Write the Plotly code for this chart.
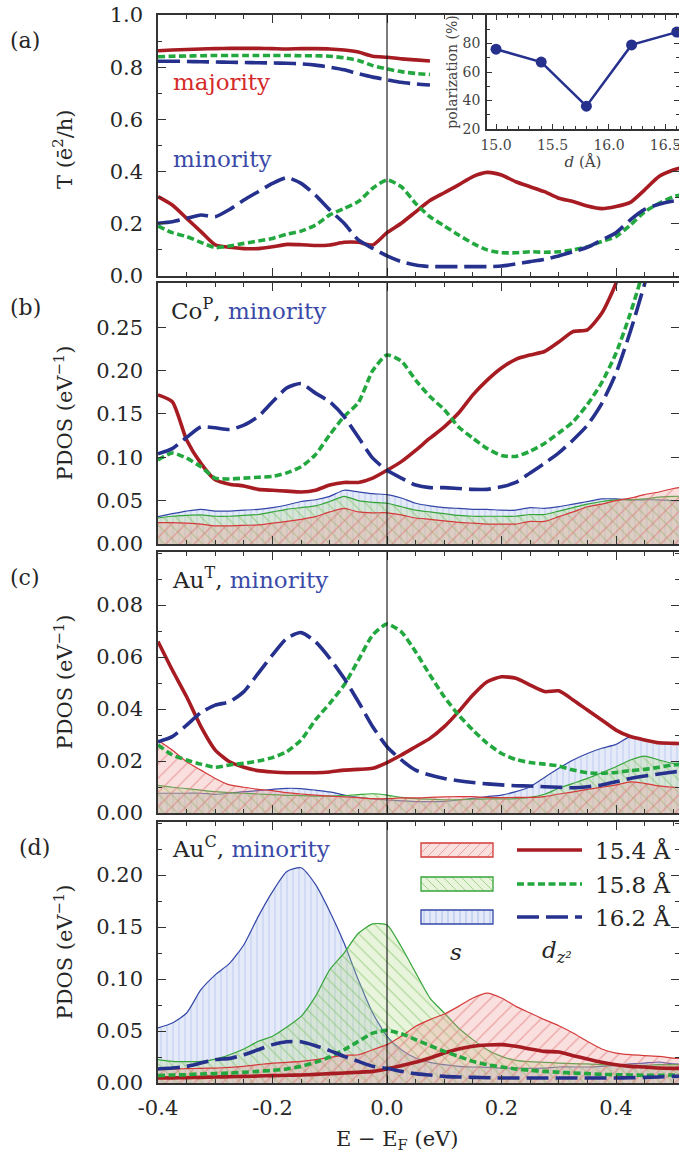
import plotly.graph_objects as go

# ---------------- data ----------------
E = [-0.4, -0.375, -0.35, -0.325, -0.3, -0.275, -0.25, -0.225, -0.2, -0.175,
     -0.15, -0.125, -0.1, -0.075, -0.05, -0.025, 0.0, 0.025, 0.05, 0.075,
     0.1, 0.125, 0.15, 0.175, 0.2, 0.225, 0.25, 0.275, 0.3, 0.325,
     0.35, 0.375, 0.4, 0.425, 0.45, 0.475, 0.5, 0.525]
E_MAJ = E[:20]

# (a) transmission
T_maj_154 = [0.863, 0.866, 0.868, 0.870, 0.871, 0.872, 0.872, 0.872, 0.871, 0.870,
             0.871, 0.871, 0.870, 0.866, 0.858, 0.842, 0.838, 0.832, 0.828, 0.824]
T_maj_158 = [0.840, 0.842, 0.843, 0.844, 0.845, 0.845, 0.845, 0.845, 0.845, 0.845,
             0.844, 0.844, 0.842, 0.836, 0.826, 0.806, 0.793, 0.783, 0.776, 0.772]
T_maj_162 = [0.823, 0.823, 0.822, 0.821, 0.820, 0.819, 0.818, 0.817, 0.816, 0.815,
             0.813, 0.808, 0.800, 0.790, 0.775, 0.762, 0.752, 0.742, 0.736, 0.732]
T_min_154 = [0.304, 0.272, 0.221, 0.170, 0.119, 0.110, 0.105, 0.105, 0.112, 0.121,
             0.120, 0.117, 0.119, 0.129, 0.129, 0.119, 0.166, 0.202, 0.246, 0.289,
             0.319, 0.349, 0.381, 0.397, 0.387, 0.361, 0.342, 0.323, 0.298, 0.285,
             0.268, 0.258, 0.266, 0.282, 0.330, 0.381, 0.406, 0.420]
T_min_158 = [0.192, 0.166, 0.151, 0.129, 0.109, 0.115, 0.125, 0.134, 0.144, 0.160,
             0.172, 0.195, 0.234, 0.259, 0.285, 0.336, 0.368, 0.342, 0.278, 0.227,
             0.192, 0.157, 0.125, 0.100, 0.089, 0.089, 0.093, 0.091, 0.093, 0.100,
             0.112, 0.132, 0.151, 0.195, 0.246, 0.278, 0.304, 0.315]
T_min_162 = [0.202, 0.208, 0.221, 0.234, 0.227, 0.255, 0.291, 0.323, 0.355, 0.377,
             0.355, 0.310, 0.253, 0.202, 0.138, 0.106, 0.077, 0.055, 0.042, 0.036,
             0.036, 0.036, 0.036, 0.036, 0.038, 0.046, 0.055, 0.064, 0.077, 0.093,
             0.110, 0.138, 0.166, 0.215, 0.255, 0.275, 0.287, 0.293]

# inset: spin polarization vs electrode distance
D_ANG = [15.0, 15.4, 15.8, 16.2, 16.6]
POL = [76, 67, 36, 79, 88]

# (b) Co^P minority: dz2 lines and s fills
b_dz2_154 = [0.172, 0.164, 0.120, 0.093, 0.074, 0.069, 0.067, 0.063, 0.062, 0.061,
             0.060, 0.062, 0.068, 0.071, 0.071, 0.076, 0.085, 0.095, 0.108, 0.122,
             0.135, 0.151, 0.172, 0.189, 0.203, 0.213, 0.218, 0.222, 0.233, 0.245,
             0.247, 0.266, 0.301, 0.360, 0.420, 0.480, 0.550, 0.620]
b_dz2_158 = [0.097, 0.105, 0.099, 0.089, 0.076, 0.075, 0.076, 0.077, 0.078, 0.082,
             0.089, 0.103, 0.126, 0.147, 0.163, 0.200, 0.218, 0.211, 0.189, 0.170,
             0.155, 0.135, 0.122, 0.110, 0.102, 0.101, 0.107, 0.116, 0.128, 0.141,
             0.161, 0.186, 0.220, 0.266, 0.320, 0.380, 0.440, 0.500]
b_dz2_162 = [0.104, 0.110, 0.123, 0.135, 0.134, 0.132, 0.137, 0.147, 0.164, 0.180,
             0.185, 0.174, 0.164, 0.147, 0.123, 0.099, 0.085, 0.076, 0.068, 0.065,
             0.065, 0.064, 0.063, 0.063, 0.066, 0.071, 0.082, 0.093, 0.105, 0.120,
             0.137, 0.162, 0.197, 0.245, 0.300, 0.360, 0.420, 0.480]
b_s_154 = [0.0246, 0.0246, 0.024, 0.023, 0.021, 0.021, 0.0215, 0.022, 0.024, 0.026,
           0.0285, 0.0316, 0.037, 0.041, 0.037, 0.036, 0.036, 0.0335, 0.030, 0.0285,
           0.0266, 0.025, 0.024, 0.023, 0.023, 0.023, 0.026, 0.026, 0.0316, 0.037,
           0.043, 0.046, 0.050, 0.053, 0.057, 0.060, 0.064, 0.066]
b_s_158 = [0.030, 0.032, 0.033, 0.0335, 0.032, 0.032, 0.033, 0.034, 0.037, 0.040,
           0.042, 0.044, 0.049, 0.055, 0.050, 0.048, 0.047, 0.043, 0.039, 0.037,
           0.035, 0.033, 0.032, 0.032, 0.032, 0.032, 0.034, 0.034, 0.038, 0.042,
           0.046, 0.049, 0.051, 0.051, 0.052, 0.054, 0.055, 0.055]
b_s_162 = [0.0316, 0.035, 0.038, 0.040, 0.038, 0.038, 0.039, 0.040, 0.042, 0.045,
           0.049, 0.051, 0.055, 0.062, 0.060, 0.058, 0.057, 0.053, 0.047, 0.044,
           0.042, 0.041, 0.040, 0.040, 0.039, 0.039, 0.042, 0.041, 0.043, 0.046,
           0.049, 0.052, 0.052, 0.051, 0.051, 0.051, 0.050, 0.050]

# (c) Au^T minority
c_dz2_154 = [0.066, 0.055, 0.0447, 0.0332, 0.0242, 0.0197, 0.0176, 0.0163, 0.0158, 0.0155,
             0.0155, 0.0155, 0.0158, 0.0165, 0.0168, 0.0172, 0.0194, 0.0223, 0.0255, 0.0287,
             0.0332, 0.039, 0.0454, 0.0505, 0.0524, 0.0518, 0.0492, 0.0467, 0.047, 0.0435,
             0.0396, 0.0358, 0.0319, 0.0294, 0.0281, 0.027, 0.0268, 0.0267]
c_dz2_158 = [0.0262, 0.0223, 0.0204, 0.0188, 0.0176, 0.0185, 0.0191, 0.020, 0.0213, 0.0236,
             0.0281, 0.0358, 0.0422, 0.0492, 0.0588, 0.0685, 0.0727, 0.0697, 0.062, 0.0531,
             0.0447, 0.0377, 0.0319, 0.0268, 0.0229, 0.0206, 0.0194, 0.0188, 0.0181, 0.0165,
             0.0155, 0.0153, 0.0156, 0.0163, 0.0168, 0.0176, 0.0185, 0.019]
c_dz2_162 = [0.0274, 0.0294, 0.0338, 0.0386, 0.0415, 0.0428, 0.0467, 0.0537, 0.0608, 0.0672,
             0.0694, 0.0659, 0.0595, 0.0518, 0.0428, 0.0332, 0.0255, 0.0204, 0.0165, 0.0146,
             0.0133, 0.0124, 0.0117, 0.0112, 0.0108, 0.0105, 0.0104, 0.0101, 0.0099, 0.0097,
             0.0101, 0.0108, 0.012, 0.0133, 0.0142, 0.015, 0.0158, 0.0162]
c_s_154 = [0.028, 0.0242, 0.0197, 0.0165, 0.0133, 0.0108, 0.0099, 0.0091, 0.0086, 0.0078,
           0.0073, 0.0069, 0.0065, 0.0062, 0.0059, 0.0055, 0.0055, 0.0058, 0.0058, 0.006,
           0.0062, 0.0063, 0.0063, 0.006, 0.0059, 0.006, 0.006, 0.0063, 0.0073, 0.0081,
           0.0091, 0.0099, 0.0108, 0.012, 0.0114, 0.0104, 0.0099, 0.0097]
c_s_158 = [0.0106, 0.0099, 0.0094, 0.0088, 0.0082, 0.0078, 0.0076, 0.0073, 0.0071, 0.0068,
           0.0067, 0.0065, 0.0065, 0.0067, 0.0071, 0.0074, 0.0069, 0.006, 0.0055, 0.0053,
           0.0051, 0.0051, 0.0053, 0.0054, 0.0054, 0.0055, 0.006, 0.0072, 0.0095, 0.0114,
           0.0133, 0.0155, 0.0178, 0.0204, 0.0219, 0.0204, 0.0191, 0.0188]
c_s_162 = [0.0076, 0.0076, 0.0076, 0.0076, 0.0072, 0.0076, 0.0082, 0.0086, 0.0091, 0.0095,
           0.0094, 0.0088, 0.0081, 0.0069, 0.006, 0.0054, 0.005, 0.0047, 0.0044, 0.0044,
           0.0045, 0.005, 0.0056, 0.0063, 0.0069, 0.0082, 0.0101, 0.0137, 0.0172, 0.0204,
           0.0229, 0.0249, 0.0264, 0.0294, 0.0283, 0.027, 0.0268, 0.0268]

# (d) Au^C minority
d_dz2_154 = [0.0048, 0.0049, 0.0051, 0.0054, 0.0058, 0.006, 0.0064, 0.0067, 0.0071, 0.0074,
             0.0077, 0.0083, 0.009, 0.0096, 0.0103, 0.0112, 0.0135, 0.0167, 0.0199, 0.024,
             0.0288, 0.0327, 0.0353, 0.0365, 0.0369, 0.0353, 0.0327, 0.0304, 0.0298, 0.0263,
             0.0231, 0.0199, 0.0176, 0.016, 0.0154, 0.0144, 0.0141, 0.014]
d_dz2_158 = [0.0071, 0.0077, 0.008, 0.0087, 0.009, 0.0096, 0.0103, 0.0112, 0.0122, 0.0135,
             0.016, 0.0199, 0.025, 0.032, 0.040, 0.048, 0.0506, 0.0474, 0.0417, 0.0359,
             0.0304, 0.0256, 0.0208, 0.0176, 0.0154, 0.0135, 0.0122, 0.0112, 0.0103, 0.0096,
             0.009, 0.0083, 0.008, 0.0077, 0.0074, 0.0074, 0.0077, 0.0078]
d_dz2_162 = [0.0135, 0.0144, 0.016, 0.0192, 0.0224, 0.0237, 0.0272, 0.032, 0.0369, 0.0397,
             0.0397, 0.0359, 0.0311, 0.0256, 0.0208, 0.016, 0.0141, 0.0112, 0.009, 0.0077,
             0.0064, 0.0058, 0.0054, 0.0051, 0.0048, 0.0048, 0.0048, 0.0048, 0.0048, 0.0048,
             0.0048, 0.0048, 0.0048, 0.0051, 0.0054, 0.0058, 0.0064, 0.0066]
d_s_154 = [0.0144, 0.0135, 0.0138, 0.0141, 0.0144, 0.015, 0.016, 0.0176, 0.0192, 0.0199,
           0.0208, 0.0224, 0.0247, 0.0266, 0.0272, 0.032, 0.0369, 0.0449, 0.0545, 0.0609,
           0.0663, 0.0737, 0.0817, 0.0865, 0.0817, 0.0737, 0.0673, 0.0609, 0.0551, 0.0481,
           0.040, 0.0327, 0.0288, 0.0272, 0.0263, 0.0256, 0.024, 0.023]
d_s_158 = [0.0224, 0.0208, 0.0205, 0.0208, 0.023, 0.0272, 0.0327, 0.040, 0.0449, 0.0538,
           0.0641, 0.0833, 0.109, 0.125, 0.144, 0.153, 0.152, 0.131, 0.106, 0.0817,
           0.0673, 0.0529, 0.0417, 0.032, 0.0256, 0.0218, 0.0205, 0.0199, 0.0192, 0.0186,
           0.0183, 0.0176, 0.017, 0.017, 0.017, 0.0176, 0.0176, 0.0176]
d_s_162 = [0.0529, 0.0577, 0.0673, 0.0897, 0.104, 0.115, 0.133, 0.160, 0.184, 0.2035,
           0.207, 0.191, 0.165, 0.1346, 0.099, 0.0673, 0.0449, 0.032, 0.024, 0.0199,
           0.0176, 0.016, 0.0154, 0.015, 0.0144, 0.0144, 0.0141, 0.0144, 0.0154, 0.0154,
           0.0154, 0.016, 0.017, 0.0183, 0.0192, 0.0202, 0.0183, 0.018]

DIST_LABELS = ["15.4 Å", "15.8 Å", "16.2 Å"]
X_TICKS = [-0.4, -0.2, 0.0, 0.2, 0.4]
X_TICKTEXT = ["-0.4", "-0.2", "0.0", "0.2", "0.4"]
YA_TICKS = [0.0, 0.2, 0.4, 0.6, 0.8, 1.0]
YA_TEXT = ["0.0", "0.2", "0.4", "0.6", "0.8", "1.0"]
YB_TICKS = [0.0, 0.05, 0.10, 0.15, 0.20, 0.25]
YB_TEXT = ["0.00", "0.05", "0.10", "0.15", "0.20", "0.25"]
YC_TICKS = [0.0, 0.02, 0.04, 0.06, 0.08]
YC_TEXT = ["0.00", "0.02", "0.04", "0.06", "0.08"]
YD_TICKS = [0.0, 0.05, 0.10, 0.15, 0.20]
YD_TEXT = ["0.00", "0.05", "0.10", "0.15", "0.20"]
INS_XT = [15.0, 15.5, 16.0, 16.5]
INS_XTEXT = ["15.0", "15.5", "16.0", "16.5"]
INS_YT = [20, 40, 60, 80]

# ---------------- style ----------------
W, H = 679, 1165
SERIF = "DejaVu Serif"
TXT = "#262626"
AX = "#333333"
LINE_COL = ["#a61c22", "#23a83f", "#26318e"]
DASH = ["solid", "7px,3.5px", "22px,7px"]
EDGE_COL = ["#d43a3a", "#35a53a", "#3447a8"]
FILL_COL = ["rgba(240,150,150,0.30)", "rgba(180,220,135,0.30)", "rgba(175,190,235,0.32)"]
PAT_FG = ["rgba(225,110,110,0.55)", "rgba(120,190,90,0.6)", "rgba(130,160,225,0.6)"]
PAT_SHAPE = ["/", "\\", "|"]
PAT_SIZE = [10, 9, 6]
MAJ_RED = "#d42a2a"
MIN_BLUE = "#3a4aa8"
TICK_SIZE = 21


def X(px):
    return px / W


def Y(py):
    return 1 - py / H


# panel pixel extents (top, bottom)
PANELS = [(15, 276), (283, 544), (552, 813), (822, 1083)]
LEFT = 158

fig = go.Figure()


def add_fill(ax, y, i):
    fig.add_trace(go.Scatter(
        x=E, y=y, xaxis="x" + ax, yaxis="y" + ax, mode="lines", fill="tozeroy",
        line=dict(color=EDGE_COL[i], width=1.2, shape="spline", smoothing=0.6),
        fillcolor=FILL_COL[i],
        fillpattern=dict(shape=PAT_SHAPE[i], fgcolor=PAT_FG[i], bgcolor=FILL_COL[i],
                         size=PAT_SIZE[i], solidity=0.12, fillmode="replace"),
        showlegend=False, hoverinfo="skip"))


def add_line(ax, x, y, i):
    fig.add_trace(go.Scatter(
        x=x, y=y, xaxis="x" + ax, yaxis="y" + ax, mode="lines",
        line=dict(color=LINE_COL[i], width=3.6, dash=DASH[i], shape="spline", smoothing=0.6),
        showlegend=False, hoverinfo="skip"))


# (a)
for i, s in enumerate([T_maj_154, T_maj_158, T_maj_162]):
    add_line("", E_MAJ, s, i)
for i, s in enumerate([T_min_154, T_min_158, T_min_162]):
    add_line("", E, s, i)

# (b)-(d)
for ax, fills, lines in [
    ("2", [b_s_154, b_s_158, b_s_162], [b_dz2_154, b_dz2_158, b_dz2_162]),
    ("3", [c_s_154, c_s_158, c_s_162], [c_dz2_154, c_dz2_158, c_dz2_162]),
    ("4", [d_s_154, d_s_158, d_s_162], [d_dz2_154, d_dz2_158, d_dz2_162]),
]:
    for i in [2, 1, 0]:
        add_fill(ax, fills[i], i)
    for i in range(3):
        add_line(ax, E, lines[i], i)

# inset
fig.add_trace(go.Scatter(
    x=D_ANG, y=POL, xaxis="x5", yaxis="y5", mode="lines+markers",
    line=dict(color="#26318e", width=2.5), marker=dict(size=11, color="#26318e"),
    cliponaxis=False, showlegend=False, hoverinfo="skip"))

base_ax = dict(showline=True, linecolor=AX, linewidth=1.5, mirror="ticks",
               ticks="inside", ticklen=8, tickwidth=1.3, tickcolor=AX,
               showgrid=False, zeroline=False, automargin=False,
               tickfont=dict(family=SERIF, size=TICK_SIZE, color=TXT))

layout = dict(width=W, height=H, margin=dict(l=0, r=0, t=0, b=0, pad=0, autoexpand=False),
              paper_bgcolor="white", plot_bgcolor="white", showlegend=False,
              font=dict(family=SERIF, color=TXT, size=TICK_SIZE))

yinfo = [(YA_TICKS, YA_TEXT, [0, 1.0], 0.1),
         (YB_TICKS, YB_TEXT, [0, 0.301], None),
         (YC_TICKS, YC_TEXT, [0, 0.1004], 0.01),
         (YD_TICKS, YD_TEXT, [0, 0.251], 0.025)]
for k, ((top, bot), (tv, tt, rng, mdt)) in enumerate(zip(PANELS, yinfo)):
    suf = "" if k == 0 else str(k + 1)
    xa = dict(base_ax, domain=[X(LEFT), 1.0], range=[-0.4, 0.51], anchor="y" + suf,
              tickmode="array", tickvals=X_TICKS, ticktext=X_TICKTEXT,
              showticklabels=(k == 3), ticklabelstandoff=5,
              minor=dict(tickmode="linear", tick0=-0.4, dtick=0.05, ticks="inside",
                         ticklen=4.5, tickwidth=1.1, tickcolor=AX))
    ya = dict(base_ax, domain=[Y(bot), Y(top)], range=rng, anchor="x" + suf,
              tickmode="array", tickvals=tv, ticktext=tt, ticklabelstandoff=9)
    if mdt:
        ya["minor"] = dict(tickmode="linear", tick0=0, dtick=mdt, ticks="inside",
                           ticklen=4.5, tickwidth=1.1, tickcolor=AX)
    layout["xaxis" + suf] = xa
    layout["yaxis" + suf] = ya

ins_font = dict(family=SERIF, size=14, color="#444444")
layout["xaxis5"] = dict(base_ax, domain=[X(487), 1.0], range=[14.92, 16.62], anchor="y5",
                        tickmode="array", tickvals=INS_XT, ticktext=INS_XTEXT,
                        ticklen=5, tickfont=ins_font, ticklabelstandoff=2,
                        ticklabeloverflow="allow",
                        minor=dict(tickmode="linear", tick0=15.0, dtick=0.1, ticks="inside",
                                   ticklen=3, tickwidth=1, tickcolor=AX),
                        title=dict(text="<i>d</i> (Å)", font=dict(family=SERIF, size=15, color="#444444"),
                                   standoff=3))
layout["yaxis5"] = dict(base_ax, domain=[Y(129), Y(15)], range=[20, 100], anchor="x5",
                        tickmode="array", tickvals=INS_YT, ticklen=5, tickfont=ins_font,
                        ticklabelstandoff=2,
                        minor=dict(tickmode="linear", tick0=20, dtick=10, ticks="inside",
                                   ticklen=3, tickwidth=1, tickcolor=AX),
                        title=dict(text="polarization (%)", font=dict(family=SERIF, size=14, color="#444444"),
                                   standoff=2))

fig.update_layout(**layout)

# vertical Fermi-level lines
shapes = []
for k in range(4):
    suf = "" if k == 0 else str(k + 1)
    shapes.append(dict(type="line", xref="x" + suf, yref="y" + suf + " domain",
                       x0=0, x1=0, y0=0, y1=1, line=dict(color="#111111", width=1.1)))


# legend (panel d): hatched patches + line samples
def hatch_path(x0, y0, x1, y1, kind, step):
    segs = []
    h = y1 - y0
    if kind == "|":
        x = x0 + step / 2
        while x < x1:
            segs.append(((x, y0), (x, y1)))
            x += step
    else:
        t = x0 - h
        while t < x1:
            s0 = max(0, x0 - t)
            s1 = min(h, x1 - t)
            if s1 > s0:
                if kind == "/":
                    p, q = (t + s0, y1 - s0), (t + s1, y1 - s1)
                else:
                    p, q = (t + s0, y0 + s0), (t + s1, y0 + s1)
                segs.append((p, q))
            t += step
    return " ".join(f"M{X(p[0]):.5f},{Y(p[1]):.5f} L{X(q[0]):.5f},{Y(q[1]):.5f}" for p, q in segs)


LEG_Y = [850, 884, 917]
for i, yc in enumerate(LEG_Y):
    x0, x1, y0, y1 = 421, 493, yc - 7, yc + 7
    shapes.append(dict(type="rect", xref="paper", yref="paper", x0=X(x0), x1=X(x1),
                       y0=Y(y1), y1=Y(y0), fillcolor=FILL_COL[i], line=dict(width=0)))
    shapes.append(dict(type="path", xref="paper", yref="paper",
                       path=hatch_path(x0, y0, x1, y1, PAT_SHAPE[i], PAT_SIZE[i]),
                       line=dict(color=PAT_FG[i], width=1)))
    shapes.append(dict(type="rect", xref="paper", yref="paper", x0=X(x0), x1=X(x1),
                       y0=Y(y1), y1=Y(y0), fillcolor="rgba(0,0,0,0)",
                       line=dict(color=EDGE_COL[i], width=1.3)))
    shapes.append(dict(type="line", xref="paper", yref="paper", x0=X(517), x1=X(582),
                       y0=Y(yc), y1=Y(yc), line=dict(color=LINE_COL[i], width=3.6, dash=DASH[i])))
fig.update_layout(shapes=shapes)

ann = []


def text(px, py, s, size=24, color=TXT, xanchor="left", angle=0):
    ann.append(dict(x=X(px), y=Y(py), xref="paper", yref="paper", text=s, showarrow=False,
                    xanchor=xanchor, yanchor="middle", textangle=angle,
                    font=dict(family=SERIF, size=size, color=color)))


text(8, 40, "(a)", 22)
text(8, 308, "(b)", 22)
text(8, 577, "(c)", 22)
text(17, 847, "(d)", 22)
text(171, 82, "majority", 23, MAJ_RED)
text(171, 159, "minority", 23, MIN_BLUE)
text(169, 309, f"Co<sup>P</sup>, <span style='color:{MIN_BLUE}'>minority</span>", 23)
text(170, 578, f"Au<sup>T</sup>, <span style='color:{MIN_BLUE}'>minority</span>", 23)
text(170, 847, f"Au<sup>C</sup>, <span style='color:{MIN_BLUE}'>minority</span>", 23)
for i, yc in enumerate(LEG_Y):
    text(593, yc, DIST_LABELS[i], 23)
text(456, 952, "<i>s</i>", 23, xanchor="center")
text(557, 952, "<i>d<sub>z²</sub></i>", 23, xanchor="center")
text(63, 150, "T (ē<sup>2</sup>/h)", 21, xanchor="center", angle=-90)
for top, bot in PANELS[1:]:
    text(63, (top + bot) / 2, "PDOS (eV<sup>−1</sup>)", 21, xanchor="center", angle=-90)
text(397, 1140, "E − E<sub>F</sub> (eV)", 21, xanchor="center")
fig.update_layout(annotations=ann)

fig.write_html("out.html",
               post_script="document.body.style.margin='0';document.body.style.overflow='hidden';")
